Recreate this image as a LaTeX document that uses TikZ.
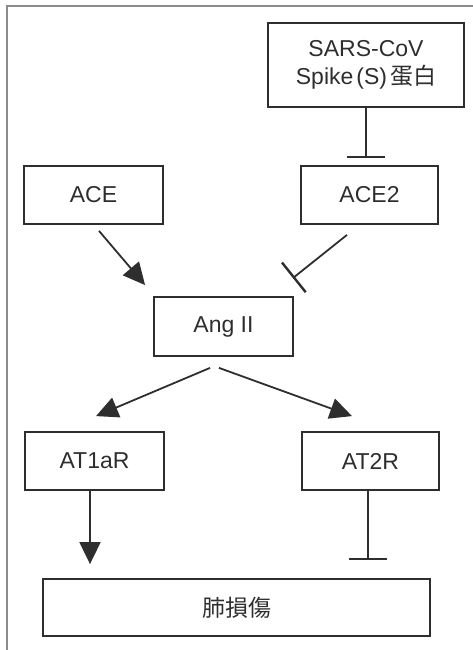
\documentclass[tikz,border=0pt]{standalone}
\usepackage{fontspec}
\setmainfont{Liberation Sans}
\newfontfamily\cjk{Noto Sans CJK JP}
\usetikzlibrary{arrows.meta,calc}
\definecolor{inkgray}{HTML}{2E2E2E}
\definecolor{framegray}{HTML}{8C8C8C}
\tikzset{
  box/.style={draw=inkgray, line width=1.8pt, text=inkgray, inner sep=0pt,
              font=\fontsize{23}{28}\selectfont, align=center},
  promote/.style={draw=inkgray, line width=1.8pt, -{Triangle[length=22pt,width=21pt]}},
  inhibit/.style={draw=inkgray, line width=1.8pt, -{Bar[width=38pt,line width=2.4pt]}}
}
\begin{document}
\begin{tikzpicture}[x=1pt,y=1pt]

            \useasboundingbox (0,0) rectangle (473,650);
            % outer frame (cut off at right and bottom)
            \draw[framegray, line width=1.5pt] (7,0) -- (7,644) -- (473,644);

            % boxes
            \node[box, minimum width=196pt, minimum height=84pt] (sars) at (366,585)
                {SARS-CoV\\Spike\hspace{3pt}(S)\hspace{3pt}{\cjk 蛋白}};
            \node[box, minimum width=139pt, minimum height=58pt] (ace) at (93.5,455) {ACE};
            \node[box, minimum width=137pt, minimum height=58pt] (acetwo) at (369.5,455) {ACE2};
            \node[box, minimum width=139pt, minimum height=59pt] (ang) at (223.5,323.5) {Ang II};
            \node[box, minimum width=139pt, minimum height=58pt] (atone) at (94.5,189) {AT1aR};
            \node[box, minimum width=137pt, minimum height=58pt] (attwo) at (370.5,189) {AT2R};
            \node[box, minimum width=387pt, minimum height=57pt] (lung) at (236.5,42.5) {\cjk 肺損傷};

            % connectors
            \draw[inhibit] (sars.south) -- ([xshift=-3.5pt,yshift=7pt]acetwo.north);
            \draw[promote] ([xshift=5.5pt,yshift=-6pt]ace.south) -- ([xshift=-8pt,yshift=11pt]ang.north west);
            \draw[inhibit] ([xshift=-22.5pt,yshift=-10pt]acetwo.south) -- ([xshift=-1pt,yshift=18pt]ang.north east);
            \draw[promote] ([xshift=-13.5pt,yshift=-11pt]ang.south) -- ([xshift=1.5pt,yshift=15pt]atone.north);
            \draw[promote] ([xshift=-4.5pt,yshift=-11pt]ang.south) -- ([xshift=-18.5pt,yshift=15pt]attwo.north);
            \draw[promote] ([xshift=-4.5pt]atone.south) -- ($(atone.south |- lung.north)+(-4.5,14)$);
            \draw[inhibit] ([xshift=-2.5pt]attwo.south) -- ($(attwo.south |- lung.north)+(-2.5,18)$);

\end{tikzpicture}
\end{document}
